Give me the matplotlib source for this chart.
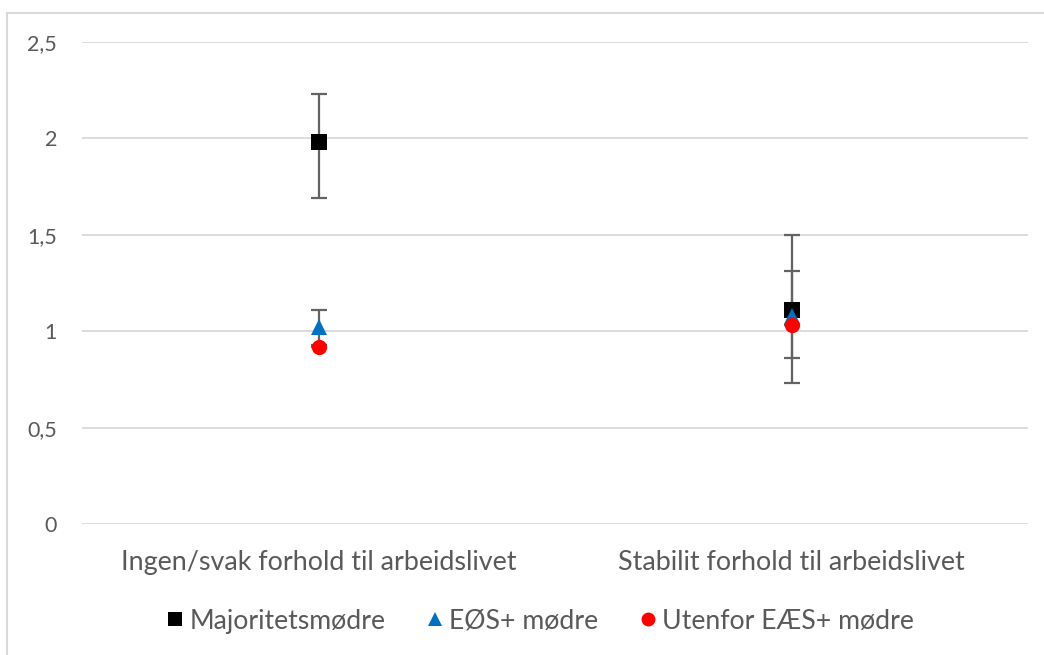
import matplotlib
matplotlib.use("Agg")
import matplotlib.pyplot as plt
from matplotlib.lines import Line2D
from matplotlib.ticker import FuncFormatter

categories = ["Ingen/svak forhold til arbeidslivet", "Stabilit forhold til arbeidslivet"]

series_names = ["Majoritetsmødre", "EØS+ mødre", "Utenfor EÆS+ mødre"]
majoritet = [1.98, 1.11]
majoritet_lo = [1.69, 0.73]
majoritet_hi = [2.23, 1.50]
eos = [1.02, 1.08]
eos_lo = [0.93, 0.86]
eos_hi = [1.11, 1.31]
utenfor = [0.92, 1.03]
utenfor_lo = [0.92, 1.03]
utenfor_hi = [0.92, 1.03]

y_ticks = [0, 0.5, 1, 1.5, 2, 2.5]

text_color = "#595959"
grid_color = "#d9d9d9"
err_color = "#636363"
font = ["Lato", "DejaVu Sans"]
plt.rcParams["font.family"] = font

fig = plt.figure(figsize=(10.44, 6.55), dpi=100)
ax = fig.add_axes([82 / 1044, 1 - 524 / 655, (1028 - 82) / 1044, (524 - 42) / 655])

x = list(range(len(categories)))

styles = [
    (majoritet, majoritet_lo, majoritet_hi, "s", "#000000", 12),
    (eos, eos_lo, eos_hi, "^", "#0070c0", 11),
    (utenfor, utenfor_lo, utenfor_hi, "o", "#ff0000", 11),
]

for vals, lo, hi, marker, color, ms in styles:
    yerr = [[v - l for v, l in zip(vals, lo)], [h - v for v, h in zip(vals, hi)]]
    ax.errorbar(x, vals, yerr=yerr, fmt="none", ecolor=err_color, elinewidth=1.6,
                capsize=6, capthick=1.6, zorder=2)
for vals, lo, hi, marker, color, ms in styles:
    ax.plot(x, vals, linestyle="none", marker=marker, color=color, markersize=ms,
            markeredgewidth=0, zorder=3)

ax.set_xlim(-0.5, 1.5)
ax.set_ylim(0, 2.5)
ax.set_yticks(y_ticks)
ax.yaxis.set_major_formatter(FuncFormatter(lambda v, p: f"{v:g}".replace(".", ",")))
ax.set_xticks(x)
ax.set_xticklabels(categories)
ax.grid(axis="y", color=grid_color, linewidth=1.3)
ax.set_axisbelow(True)
for s in ax.spines.values():
    s.set_visible(False)
ax.tick_params(axis="both", length=0, colors=text_color)
ax.tick_params(axis="y", pad=18, labelsize=15.5)
ax.tick_params(axis="x", pad=19, labelsize=19.4)

handles = [
    Line2D([], [], linestyle="none", marker="s", color="#000000", markersize=9.5, markeredgewidth=0),
    Line2D([], [], linestyle="none", marker="^", color="#0070c0", markersize=9.5, markeredgewidth=0),
    Line2D([], [], linestyle="none", marker="o", color="#ff0000", markersize=10, markeredgewidth=0),
]
leg = fig.legend(handles, series_names, loc="center", bbox_to_anchor=(539 / 1044, 1 - 621 / 655),
                 ncol=3, frameon=False, fontsize=19.2, handletextpad=0.15, columnspacing=1.45,
                 handlelength=0.8, labelcolor=text_color)

# figure frame (top and left edges)
fig.add_artist(Line2D([6.5 / 1044, 6.5 / 1044], [0, 1 - 12.5 / 655], transform=fig.transFigure,
                      color=grid_color, linewidth=1.5))
fig.add_artist(Line2D([6.5 / 1044, 1], [1 - 12.5 / 655, 1 - 12.5 / 655], transform=fig.transFigure,
                      color=grid_color, linewidth=1.5))

fig.savefig("out.png", dpi=100, facecolor="white")
